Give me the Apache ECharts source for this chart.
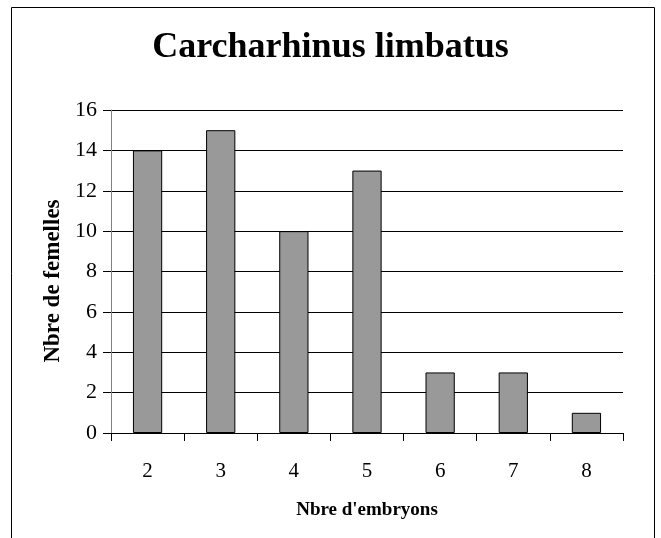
<!DOCTYPE html>
<html>
<head>
<meta charset="utf-8">
<script src="https://cdn.jsdelivr.net/npm/echarts@6/dist/echarts.min.js"></script>
<style>
html,body{margin:0;padding:0;background:#fff;}
#chart{width:661px;height:538px;}
</style>
</head>
<body>
<div id="chart"></div>
<script>
var titleText = 'Carcharhinus limbatus';
var xAxisTitle = "Nbre d'embryons";
var yAxisTitle = 'Nbre de femelles';
var categories = ['2', '3', '4', '5', '6', '7', '8'];
var values = [14, 15, 10, 13, 3, 3, 1];
var yMin = 0, yMax = 16, yStep = 2;

var serif = 'Liberation Serif';
var chart = echarts.init(document.getElementById('chart'), null, {renderer: 'canvas'});
chart.setOption({
  animation: false,
  backgroundColor: '#ffffff',
  textStyle: {fontFamily: serif},
  title: {
    text: titleText,
    left: 'center',
    top: 30,
    padding: 0,
    textStyle: {fontFamily: serif, fontSize: 36, fontWeight: 'bold', color: '#000'}
  },
  graphic: [{
    type: 'rect',
    shape: {x: 11.5, y: 7.5, width: 643, height: 600},
    style: {fill: 'none', stroke: '#000', lineWidth: 1},
    silent: true
  }],
  grid: {left: 111, right: 38, top: 110, bottom: 105},
  xAxis: {
    type: 'category',
    data: categories,
    name: xAxisTitle,
    nameLocation: 'middle',
    nameGap: 68,
    nameTextStyle: {fontFamily: serif, fontSize: 19, fontWeight: 'bold', color: '#000'},
    axisLine: {lineStyle: {color: '#000', width: 1}},
    axisTick: {show: true, length: 8, lineStyle: {color: '#000'}},
    axisLabel: {fontFamily: serif, fontSize: 21, color: '#000', margin: 28}
  },
  yAxis: {
    type: 'value',
    min: yMin, max: yMax, interval: yStep,
    name: yAxisTitle,
    nameLocation: 'middle',
    nameGap: 46,
    nameRotate: 90,
    nameTextStyle: {fontFamily: serif, fontSize: 23, fontWeight: 'bold', color: '#000', padding: [0, 19, 0, 0]},
    axisLine: {show: true, lineStyle: {color: '#808080', width: 1}},
    axisTick: {show: true, length: 8, lineStyle: {color: '#000'}},
    axisLabel: {fontFamily: serif, fontSize: 22, color: '#000', margin: 14},
    splitLine: {show: true, lineStyle: {color: '#000', width: 1}}
  },
  series: [{
    type: 'bar',
    data: values,
    barCategoryGap: '60%',
    itemStyle: {color: '#999999', borderColor: '#000', borderWidth: 1}
  }]
});
</script>
</body>
</html>
